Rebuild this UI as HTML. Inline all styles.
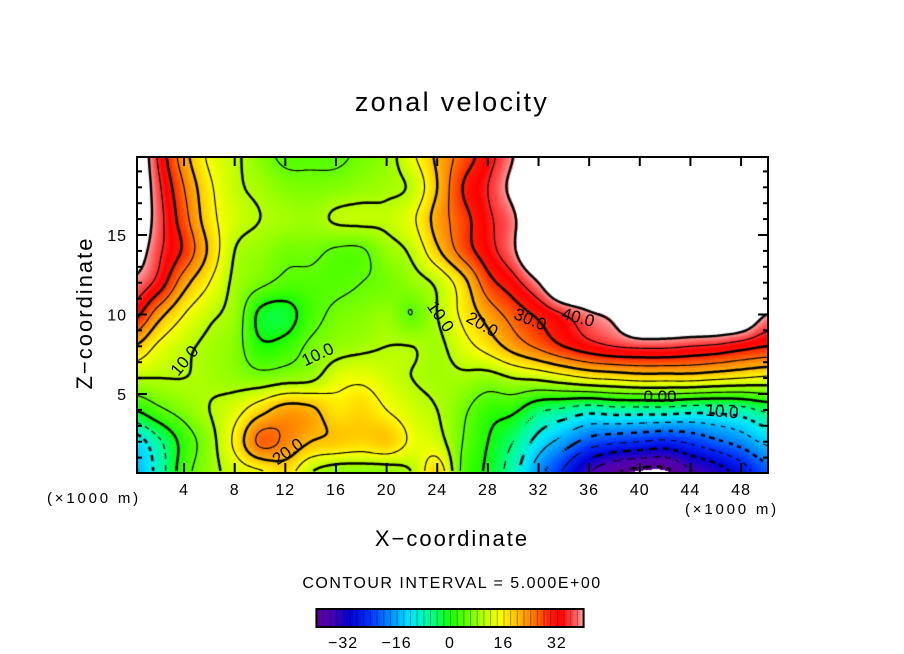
<!DOCTYPE html>
<html><head><meta charset="utf-8"><style>
body{margin:0;background:#fff;width:904px;height:654px;overflow:hidden;position:relative;font-family:"Liberation Sans",sans-serif;}
.t{position:absolute;white-space:nowrap;color:#000;}
</style></head><body>
<div class="t" style="left:0;width:904px;text-align:center;top:87px;font-size:27px;letter-spacing:2.3px;">zonal velocity</div>
<canvas id="cv" width="631" height="316" style="position:absolute;left:137px;top:157px;"></canvas>
<svg id="ov" width="904" height="654" style="position:absolute;left:0;top:0;"></svg>
<div class="t" style="left:47px;top:490px;font-size:15px;letter-spacing:2.8px;">(×1000 m)</div>
<div class="t" style="left:685px;top:501px;font-size:15px;letter-spacing:2.8px;">(×1000 m)</div>
<div class="t" style="left:0;width:904px;text-align:center;top:526px;font-size:22px;letter-spacing:2px;">X−coordinate</div>
<div class="t" style="left:-15px;top:300px;width:200px;text-align:center;font-size:22px;letter-spacing:2px;transform:rotate(-90deg);">Z−coordinate</div>
<div class="t" style="left:0;width:904px;text-align:center;top:575px;font-size:16px;letter-spacing:1.5px;">CONTOUR INTERVAL = 5.000E+00</div>
<script>
const xs=[0,2,4,6,8,10,12,14,16,18,20,22,24,26,28,30,32,34,36,38,40,42,44,46,48,50];
const zs=[0,2,4,6,8,10,12,14,16,18,20];
const row0=[-16,-8,3,8,12,14,17,10,7,7,7,10,18,4,-1,-8,-18,-26,-35,-40,-42,-42,-36,-33,-28,-22];
const row2=[-13,-6,2,8,16,26,24,20,19,18,19,14,12,5,0,-5,-12,-17,-22,-24,-25,-26,-24,-21,-18,-14];
const row4=[0,4,7,10,13,18,22,21,17,18,15,12,10,6,2,1,-4,-6,-8,-7,-7,-7,-8,-8,-7,-4];
const row6=[10,10,10,9,8,7,8,9,13,14,12,10,9,9,8,10,11,13,15,16,17,17,17,16,15,14];
const row8=[20,14,11,9,7,1,2,6,8,9,10,10,9,13,17,22,26,30,33,35,36,36,35,34,32,30];
const row10=[32,22,15,11,8,-1,-2,3,6,7,8,5,10,16,22,27,31,35,39,42,50,50,50,50,48,40];
const row12=[39,33,22,15,9,6,4,4,4,5,6,8,11,18,28,33,40,50,50,50,50,50,50,50,50,50];
const row14=[44,36,29,19,10,8,6,6,4.5,4.5,8,11,19,27,33,39,50,50,50,50,50,50,50,50,50,50];
const row16=[47,37,27,17,12,10,9,8.5,10.5,11,11,14,22,28,34,39,50,50,50,50,50,50,50,50,50,50];
const row18=[48,36,25,16,11,9,7,6.5,7,8,9,11,20,30,35,42,50,50,50,50,50,50,50,50,50,50];
const row20=[48,34,22,14,11,7,4,4,4,6,8,14,21,27,33,40,50,50,50,50,50,50,50,50,50,50];
const grid=[row0,row2,row4,row6,row8,row10,row12,row14,row16,row18,row20];
const xTicks=[4,8,12,16,20,24,28,32,36,40,44,48];
const zTicks=[5,10,15];
const cbTicks=[-32,-16,0,16,32];

const X0=133.4,XS=12.66,Z0=473.5,ZS=15.9;
const px=x=>X0+XS*x, pz=z=>Z0-ZS*z;
const stops=[[-42,[90,0,140]],[-36,[80,0,180]],[-30,[0,0,210]],[-24,[0,50,255]],[-18,[0,140,255]],[-12,[0,230,255]],[-6,[0,255,150]],[0,[20,255,0]],[5,[100,255,0]],[10,[180,255,0]],[15,[255,255,0]],[20,[255,190,0]],[25,[255,120,0]],[30,[255,30,0]],[33,[255,0,0]],[37,[255,80,80]],[40,[255,160,160]]];
function col(v){if(v<=stops[0][0])return stops[0][1];for(let i=1;i<stops.length;i++){if(v<=stops[i][0]){const a=stops[i-1],b=stops[i],t=(v-a[0])/(b[0]-a[0]);return a[1].map((c,k)=>c+(b[1][k]-c)*t);}}return stops[stops.length-1][1];}
function cr(p0,p1,p2,p3,t){return 0.5*((2*p1)+(-p0+p2)*t+(2*p0-5*p1+4*p2-p3)*t*t+(-p0+3*p1-3*p2+p3)*t*t*t);}
function gv(i,j){i=Math.max(0,Math.min(xs.length-1,i));j=Math.max(0,Math.min(zs.length-1,j));return grid[j][i];}
function field(x,z){const gx=(x-xs[0])/(xs[1]-xs[0]),gz=(z-zs[0])/(zs[1]-zs[0]);const i=Math.floor(gx),j=Math.floor(gz),tx=gx-i,tz=gz-j;const r=[];for(let m=-1;m<=2;m++)r.push(cr(gv(i-1,j+m),gv(i,j+m),gv(i+1,j+m),gv(i+2,j+m),tx));return cr(r[0],r[1],r[2],r[3],tz);}
const cv=document.getElementById('cv'),ctx=cv.getContext('2d');const W=631,H=316;
const F=new Float32Array(W*H);const img=ctx.createImageData(W,H);
for(let j=0;j<H;j++)for(let i=0;i<W;i++){const x=(137+i-X0)/XS,z=(Z0-(157+j))/ZS;const v=field(x,z);F[j*W+i]=v;const k=(j*W+i)*4;let c=(v>40.5||v<-41)?[255,255,255]:col(v);img.data[k]=c[0];img.data[k+1]=c[1];img.data[k+2]=c[2];img.data[k+3]=255;}
ctx.putImageData(img,0,0);
const S=2;ctx.strokeStyle='#000';
for(let L=-40;L<=40;L+=5){ctx.lineWidth=(L%10===0)?2.5:1.2;ctx.beginPath();
for(let j=0;j+S<H;j+=S)for(let i=0;i+S<W;i+=S){const a=F[j*W+i],b=F[j*W+i+S],c=F[(j+S)*W+i+S],d=F[(j+S)*W+i];const p=[];
if((a-L)*(b-L)<0)p.push([i+S*(L-a)/(b-a),j]);if((b-L)*(c-L)<0)p.push([i+S,j+S*(L-b)/(c-b)]);if((d-L)*(c-L)<0)p.push([i+S*(L-d)/(c-d),j+S]);if((a-L)*(d-L)<0)p.push([i,j+S*(L-a)/(d-a)]);
if(L<0&&Math.floor((i+j)/6)%2===1)continue;
for(let q=0;q+1<p.length;q+=2){ctx.moveTo(p[q][0],p[q][1]);ctx.lineTo(p[q+1][0],p[q+1][1]);}}
ctx.stroke();}
const ns='http://www.w3.org/2000/svg',ov=document.getElementById('ov');
function mk(t,at){const e=document.createElementNS(ns,t);for(const k in at)e.setAttribute(k,at[k]);ov.appendChild(e);return e;}
const fr=mk('rect',{x:137,y:157,width:631,height:316,fill:'none',stroke:'#000','stroke-width':2});


xTicks.forEach(v=>{const x=px(v);
const t1=mk('line',{x1:x,y1:473,x2:x,y2:463,stroke:'#000','stroke-width':2});


mk('line',{x1:x,y1:157,x2:x,y2:166,stroke:'#000','stroke-width':2});
const tl=mk('text',{x:x,y:495,'text-anchor':'middle','font-size':16,'letter-spacing':1,'font-family':'Liberation Sans, sans-serif'});tl.textContent=v;

});
for(let z=1;z<=19;z++){const y=pz(z);const L=(z%5===0)?10:5;
mk('line',{x1:137,y1:y,x2:137+L,y2:y,stroke:'#000','stroke-width':2});
mk('line',{x1:768,y1:y,x2:768-L,y2:y,stroke:'#000','stroke-width':2});}
zTicks.forEach(v=>{const tl=mk('text',{x:127,y:pz(v)+6,'text-anchor':'end','font-size':16,'letter-spacing':1,'font-family':'Liberation Sans, sans-serif'});tl.textContent=v;

});
const labs=[[185,366,-50,'10.0'],[318,360,-25,'10.0'],[440,322,55,'10.0'],[482,330,30,'20.0'],[530,325,22,'30.0'],[578,323,15,'40.0'],[288,457,-35,'20.0'],[660,402,0,'0.00'],[722,417,5,'10.0']];
labs.forEach(l=>{const t=mk('text',{x:l[0],y:l[1],'text-anchor':'middle','font-size':17,'font-family':'Liberation Sans, sans-serif',transform:`rotate(${l[2]} ${l[0]} ${l[1]-5})`});t.textContent=l[3];

});
const CB0=450,CBS=3.34;const cbx=v=>CB0+CBS*v;
for(let v=-40;v<40;v+=1){const r=mk('rect',{x:cbx(v),y:609,width:CBS+0.3,height:18,fill:`rgb(${col(v+0.5).map(Math.round).join(',')})`});


if(v%2===0)mk('line',{x1:cbx(v)+0.5,y1:609,x2:cbx(v)+0.5,y2:627,stroke:'rgba(0,0,0,0.35)','stroke-width':1});}
const cbf=mk('rect',{x:cbx(-40),y:609,width:80*CBS,height:18,fill:'none',stroke:'#000','stroke-width':2});


cbTicks.forEach(v=>{const t=mk('text',{x:cbx(v),y:648,'text-anchor':'middle','font-size':16,'letter-spacing':1,'font-family':'Liberation Sans, sans-serif'});t.textContent=(v<0?'−':'')+Math.abs(v);

});
</script>
</body></html>
